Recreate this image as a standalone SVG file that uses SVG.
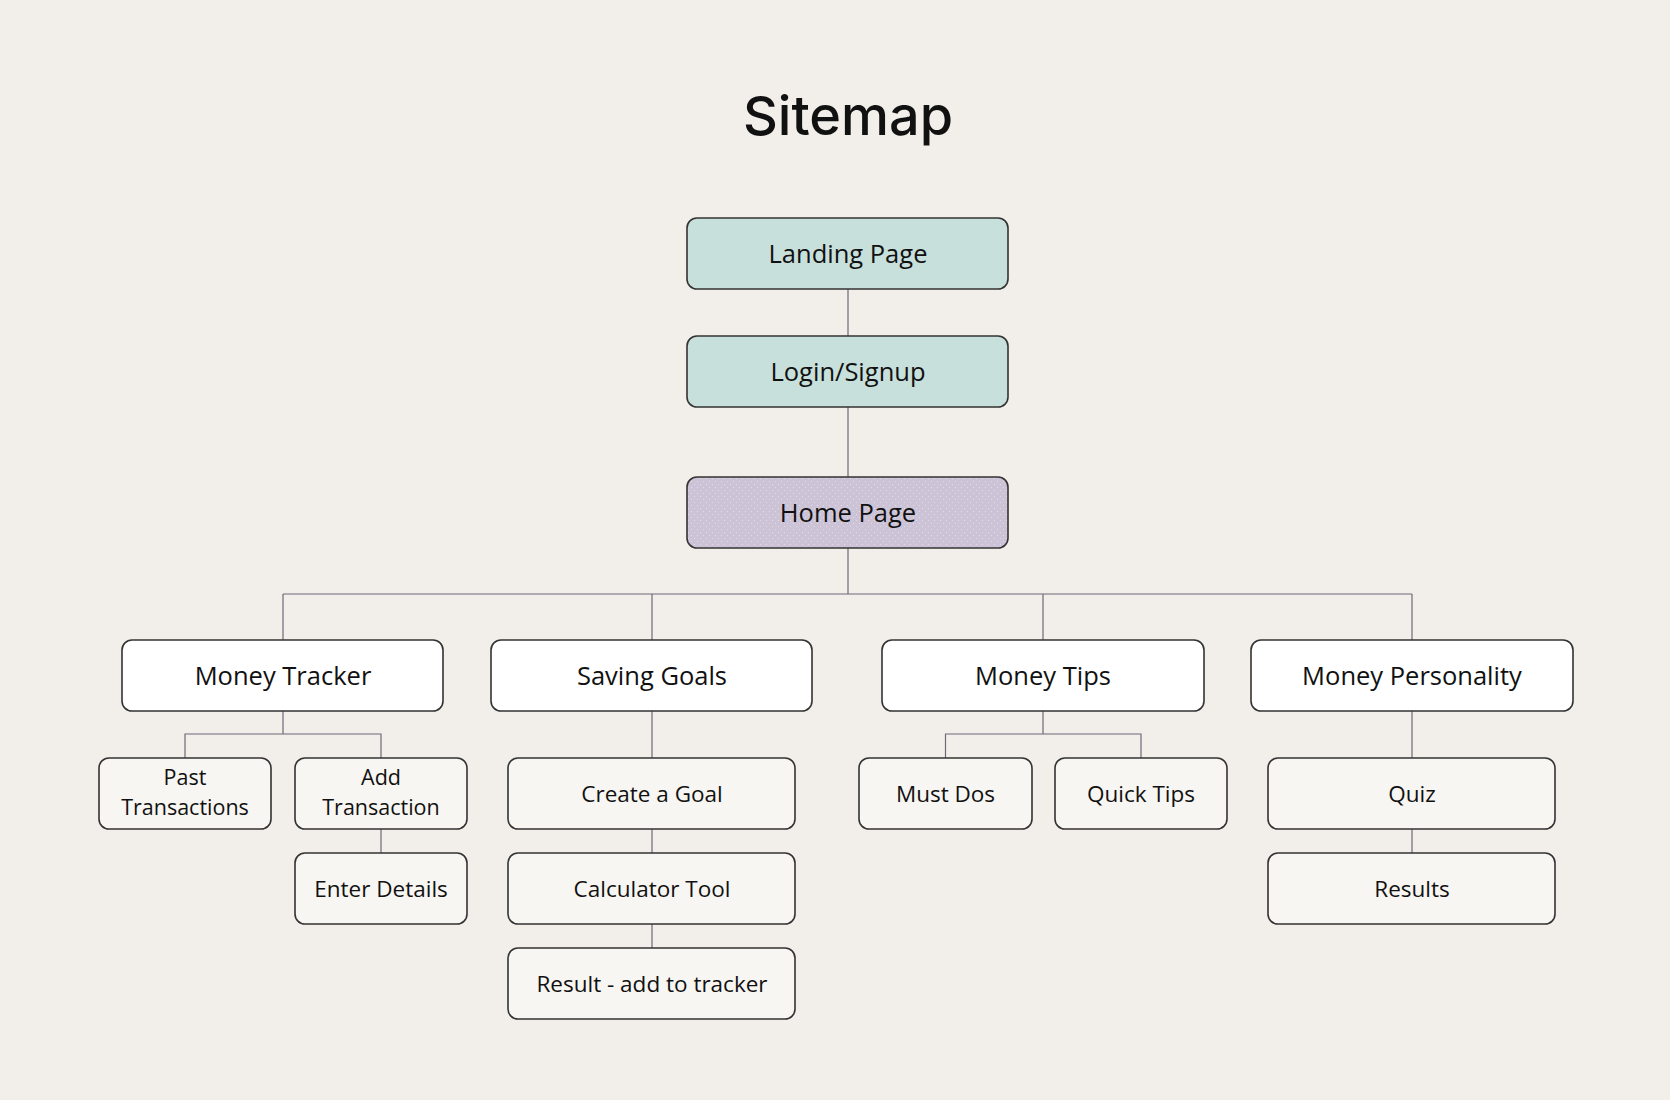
<svg xmlns="http://www.w3.org/2000/svg" width="1670" height="1100" viewBox="0 0 1670 1100">
<defs>
<pattern id="dots" width="6" height="6" patternUnits="userSpaceOnUse">
<rect width="6" height="6" fill="#cdc3d6"/>
<circle cx="1.5" cy="1.5" r="0.6" fill="#e6e0ea"/>
<circle cx="4.5" cy="4.5" r="0.6" fill="#e6e0ea"/>
</pattern>
<style>
.bg{fill:#f2efea}
.n{stroke:#333;stroke-width:1.6}
.top{fill:#c8e0db}
.home{fill:url(#dots)}
.main{fill:#ffffff}
.sub{fill:#f8f6f2}
.t{font-family:"Open Sans","Noto Sans",sans-serif;fill:#111;text-anchor:middle;dominant-baseline:central}
.t2{font-family:"Open Sans","Noto Sans",sans-serif;fill:#111;text-anchor:middle;font-size:21.5px}
.big{font-size:25.5px}
.small{font-size:22.5px}
.c{stroke:#6f6878;stroke-width:1.2;fill:none}
</style>
</defs>
<rect class="bg" width="1670" height="1100"/>
<text x="848" y="135" font-family="Inter,Roboto,sans-serif" font-size="54" font-weight="500" fill="#111" text-anchor="middle">Sitemap</text>
<g id="connectors">
<path class="c" d="M848 289V336M848 407V477M848 548V594M283 594H1412M283 594V640M652 594V640M1043 594V640M1412 594V640"/>
<path class="c" d="M283 711V734M185 758V734H381V758M381 829V853"/>
<path class="c" d="M652 711V758M652 829V853M652 924V948"/>
<path class="c" d="M1043 711V734M945.5 758V734H1141V758"/>
<path class="c" d="M1412 711V758M1412 829V853"/>
</g>
<g id="landing"><rect class="n top" x="687" y="218" width="321" height="71" rx="10"/><text class="t big" x="848" y="253">Landing Page</text></g>
<g id="login"><rect class="n top" x="687" y="336" width="321" height="71" rx="10"/><text class="t big" x="848" y="371">Login/Signup</text></g>
<g id="home"><rect class="n home" x="687" y="477" width="321" height="71" rx="10"/><text class="t big" x="848" y="512">Home Page</text></g>
<g id="money-tracker"><rect class="n main" x="122" y="640" width="321" height="71" rx="10"/><text class="t big" x="283" y="675">Money Tracker</text></g>
<g id="saving-goals"><rect class="n main" x="491" y="640" width="321" height="71" rx="10"/><text class="t big" x="652" y="675">Saving Goals</text></g>
<g id="money-tips"><rect class="n main" x="882" y="640" width="322" height="71" rx="10"/><text class="t big" x="1043" y="675">Money Tips</text></g>
<g id="money-personality"><rect class="n main" x="1251" y="640" width="322" height="71" rx="10"/><text class="t big" x="1412" y="675">Money Personality</text></g>
<g id="past-transactions"><rect class="n sub" x="99" y="758" width="172" height="71" rx="10"/><text class="t2" x="185" y="785">Past</text><text class="t2" x="185" y="815">Transactions</text></g>
<g id="add-transaction"><rect class="n sub" x="295" y="758" width="172" height="71" rx="10"/><text class="t2" x="381" y="785">Add</text><text class="t2" x="381" y="815">Transaction</text></g>
<g id="enter-details"><rect class="n sub" x="295" y="853" width="172" height="71" rx="10"/><text class="t small" x="381" y="888">Enter Details</text></g>
<g id="create-goal"><rect class="n sub" x="508" y="758" width="287" height="71" rx="10"/><text class="t small" x="652" y="793">Create a Goal</text></g>
<g id="calculator"><rect class="n sub" x="508" y="853" width="287" height="71" rx="10"/><text class="t small" x="652" y="888">Calculator Tool</text></g>
<g id="result"><rect class="n sub" x="508" y="948" width="287" height="71" rx="10"/><text class="t small" x="652" y="983">Result - add to tracker</text></g>
<g id="must-dos"><rect class="n sub" x="859" y="758" width="173" height="71" rx="10"/><text class="t small" x="945.5" y="793">Must Dos</text></g>
<g id="quick-tips"><rect class="n sub" x="1055" y="758" width="172" height="71" rx="10"/><text class="t small" x="1141" y="793">Quick Tips</text></g>
<g id="quiz"><rect class="n sub" x="1268" y="758" width="287" height="71" rx="10"/><text class="t small" x="1412" y="793">Quiz</text></g>
<g id="results"><rect class="n sub" x="1268" y="853" width="287" height="71" rx="10"/><text class="t small" x="1412" y="888">Results</text></g>
</svg>
